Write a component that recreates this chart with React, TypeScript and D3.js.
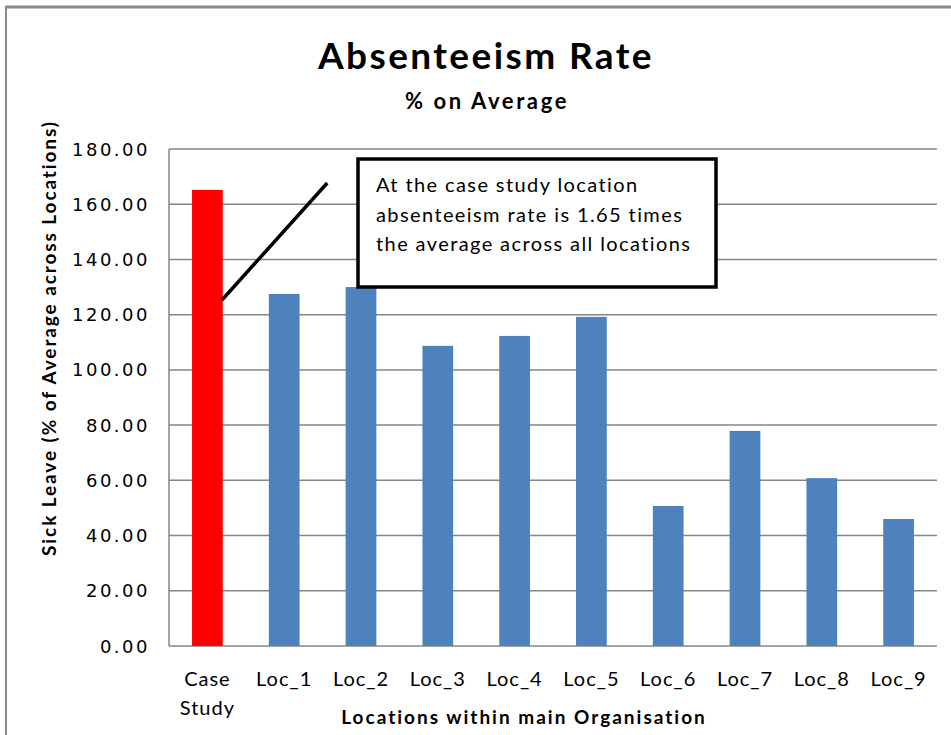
import React from "react";
import * as d3 from "d3";

const categories = ["Case Study", "Loc_1", "Loc_2", "Loc_3", "Loc_4", "Loc_5", "Loc_6", "Loc_7", "Loc_8", "Loc_9"];
const values = [165.2, 127.5, 130.0, 108.7, 112.3, 119.2, 50.7, 77.9, 60.8, 46.0];
const yTicks = [0, 20, 40, 60, 80, 100, 120, 140, 160, 180];
const title = "Absenteeism Rate";
const subtitle = "% on Average";
const yTitle = "Sick Leave (% of Average across Locations)";
const xTitle = "Locations within main Organisation";
const noteLines = ["At the case study location", "absenteeism rate is 1.65 times", "the average across all locations"];
// annotation pointer: from (category, offset within band, value) to (category, offset, value)
const pointerFrom = { cat: 0, dx: 0.69, value: 125.3 };
const pointerTo = { cat: 1, dx: 1.06, value: 167.7 };

const W = 951, H = 735;
const left = 169, right = 937, top = 149, bottom = 646;
const font = "Lato, 'Open Sans', sans-serif";

export default function App() {
  const x = d3.scaleBand<string>().domain(categories).range([left, right]).paddingInner(0.6).paddingOuter(0.3);
  const xc = d3.scaleBand<string>().domain(categories).range([left, right]);
  const y = d3.scaleLinear().domain([0, 180]).range([bottom, top]);
  const fmt = d3.format(".2f");
  const grid = "#868686";

  const px = (p: { cat: number; dx: number; value: number }) =>
    (xc(categories[p.cat]) as number) + xc.bandwidth() * p.dx;

  return (
    <svg width={W} height={H} style={{ position: "absolute", left: 0, top: 0, background: "#fff" }}>
      <rect x={0} y={0} width={W} height={H} fill="#fff" />
      {/* outer frame */}
      <line x1={6} x2={W} y1={7} y2={7} stroke="#8a8a8a" strokeWidth={3} />
      <line x1={6} x2={6} y1={6} y2={H} stroke="#8a8a8a" strokeWidth={2} />

      <text x={486} y={69} textAnchor="middle" fontFamily={font} fontWeight="bold" fontSize={37} letterSpacing={2.4} fill="#000">{title}</text>
      <text x={487} y={109} textAnchor="middle" fontFamily={font} fontWeight="bold" fontSize={22} letterSpacing={2.6} fill="#000">{subtitle}</text>

      {yTicks.map((t) => (
        <g key={t}>
          <line x1={left} x2={right} y1={y(t)} y2={y(t)} stroke={grid} strokeWidth={1.5} />
          <text x={150} y={y(t) + 6.5} textAnchor="end" fontFamily="'DejaVu Sans', Verdana, sans-serif" fontSize={18} letterSpacing={2.5} fill="#000">{fmt(t)}</text>
        </g>
      ))}
      <line x1={left} x2={left} y1={top} y2={bottom} stroke={grid} strokeWidth={1.5} />

      {categories.map((c, i) => (
        <rect key={c} x={x(c)} y={y(values[i])} width={x.bandwidth()} height={bottom - y(values[i])}
          fill={i === 0 ? "#ff0000" : "#4f81bd"} />
      ))}

      {categories.map((c) => {
        const cx = (xc(c) as number) + xc.bandwidth() / 2;
        const parts = c.split(" ");
        return (
          <text key={c} x={cx} y={686} textAnchor="middle" fontFamily={font} fontSize={20} letterSpacing={1} fill="#000">
            {parts.map((p, j) => (
              <tspan key={j} x={cx} dy={j === 0 ? 0 : 29}>{p}</tspan>
            ))}
          </text>
        );
      })}

      <text x={524} y={724} textAnchor="middle" fontFamily={font} fontWeight="bold" fontSize={19} letterSpacing={2} fill="#000">{xTitle}</text>
      <text transform={`translate(56, 338) rotate(-90)`} textAnchor="middle" fontFamily={font} fontWeight="bold" fontSize={19} letterSpacing={1.9} fill="#000">{yTitle}</text>

      {/* annotation */}
      <line x1={px(pointerFrom)} y1={y(pointerFrom.value)} x2={px(pointerTo)} y2={y(pointerTo.value)} stroke="#000" strokeWidth={3.5} />
      <rect x={358} y={159} width={358} height={128} fill="#fff" stroke="#000" strokeWidth={3.5} />
      {noteLines.map((l, i) => (
        <text key={i} x={376} y={192 + i * 29.5} fontFamily={font} fontSize={20} letterSpacing={1.4} fill="#000">{l}</text>
      ))}
    </svg>
  );
}
